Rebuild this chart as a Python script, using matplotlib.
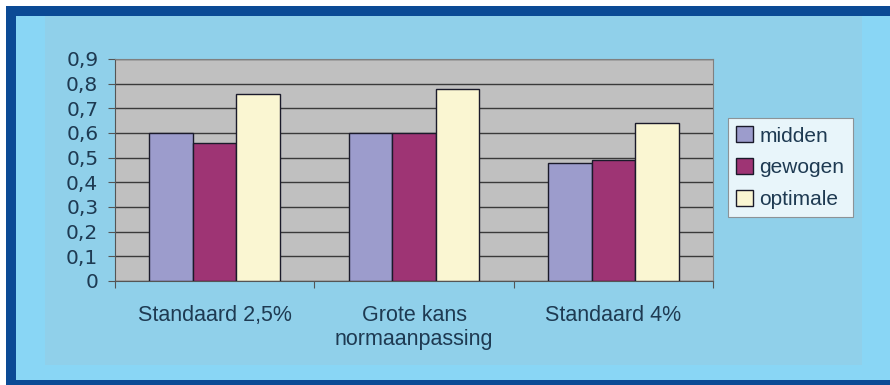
import matplotlib.pyplot as plt
import matplotlib.patches as mpatches
import numpy as np

categories = ['Standaard 2,5%', 'Grote kans\nnormaanpassing', 'Standaard 4%']
midden = [0.60, 0.60, 0.48]
gewogen = [0.56, 0.60, 0.49]
optimale = [0.76, 0.78, 0.64]
series_names = ['midden', 'gewogen', 'optimale']
colors = ['#9c9ccc', '#9e3474', '#faf6d2']
yticks = [0, 0.1, 0.2, 0.3, 0.4, 0.5, 0.6, 0.7, 0.8, 0.9]

plt.rcParams['font.family'] = ['Liberation Sans', 'DejaVu Sans']
text_col = '#1e3a52'

W, H = 890, 385
fig = plt.figure(figsize=(W / 100, H / 100), dpi=100)
fig.patch.set_facecolor('white')


def rect(x0, y0, x1, y1, color):
    # pixel coords, y measured from top
    fig.add_artist(mpatches.Rectangle((x0 / W, 1 - y1 / H), (x1 - x0) / W, (y1 - y0) / H,
                                      transform=fig.transFigure, facecolor=color,
                                      edgecolor='none', zorder=0))


rect(6, 6, W, H, '#0b4a95')
rect(16, 16, W, 380, '#89d6f5')
rect(45, 16, 862, 365, '#90d0ea')

ax = fig.add_axes([115 / W, 1 - 281 / H, 598 / W, 222 / H])
ax.set_facecolor('#c0c0c0')

x = np.arange(len(categories))
w = 0.218
for i, (vals, name, c) in enumerate(zip([midden, gewogen, optimale], series_names, colors)):
    ax.bar(x + (i - 1) * w, vals, width=w, color=c, edgecolor='#1a1a2a',
           linewidth=1.0, label=name, zorder=3)

ax.set_xlim(-0.5, 2.5)
ax.set_ylim(0, 0.9)
ax.set_yticks(yticks)
ax.set_yticklabels([('%g' % t).replace('.', ',') for t in yticks],
                   fontsize=14.5, color=text_col, family='DejaVu Sans')
ax.yaxis.grid(True, color='#3a3a3a', linewidth=1.0, zorder=1)
ax.set_axisbelow(True)

ax.set_xticks([-0.5, 0.5, 1.5, 2.5])
ax.set_xticklabels([])
ax.set_xticks(x, minor=True)
ax.set_xticklabels(categories, minor=True, fontsize=15.5, color=text_col,
                   linespacing=1.2)
ax.tick_params(axis='x', which='minor', length=0, pad=17)
ax.tick_params(axis='x', which='major', length=5, color='#555555')
ax.tick_params(axis='y', length=5, color='#555555', pad=7)

for s in ['top', 'right']:
    ax.spines[s].set_color('#808080')
    ax.spines[s].set_linewidth(0.8)
for s in ['left', 'bottom']:
    ax.spines[s].set_color('#555555')

leg = ax.legend(loc='upper left', bbox_to_anchor=(728 / W, 1 - 118 / H),
                bbox_transform=fig.transFigure, fontsize=15, frameon=True,
                fancybox=False, edgecolor='#808080', facecolor='white',
                handlelength=0.8, handleheight=0.8, handletextpad=0.3,
                labelspacing=0.6, borderpad=0.4, borderaxespad=0,
                labelcolor=text_col)
leg.get_frame().set_linewidth(0.8)

fig.savefig('out.png', dpi=100, facecolor=fig.get_facecolor())
